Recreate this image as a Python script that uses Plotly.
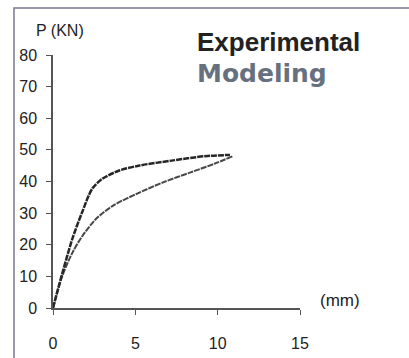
import plotly.graph_objects as go

exp_x = [0, 0.36, 1.17, 1.77, 2.38, 2.98, 3.99, 5.2, 7.2, 9.23, 10.75]
exp_y = [0, 7.1, 21.8, 30.3, 37.7, 40.8, 43.4, 45.0, 46.6, 48.0, 48.4]

mod_x = [0, 0.57, 1.19, 1.8, 2.62, 3.65, 5.08, 6.72, 8.36, 9.8, 10.92]
mod_y = [0, 10.2, 17.6, 22.9, 28.2, 32.4, 36.1, 39.8, 42.9, 45.6, 48.0]

x_ticks = [0, 5, 10, 15]
y_ticks = [0, 10, 20, 30, 40, 50, 60, 70, 80]

fig = go.Figure()
fig.add_trace(go.Scatter(x=mod_x, y=mod_y, mode="lines",
                         line=dict(color="#484848", width=2.0, dash="6px,1px", shape="spline", smoothing=0.8),
                         name="Modeling"))
fig.add_trace(go.Scatter(x=exp_x, y=exp_y, mode="lines",
                         line=dict(color="#262626", width=2.5, dash="6px,1px", shape="spline", smoothing=0.8),
                         name="Experimental"))

font = "Liberation Sans, Arial, sans-serif"
fig.update_layout(
    width=409, height=358,
    margin=dict(l=53, r=109, t=55, b=50, autoexpand=False),
    paper_bgcolor="white", plot_bgcolor="white",
    showlegend=False,
    font=dict(family=font, size=16, color="#222"),
    xaxis=dict(range=[0, 15], tickvals=x_ticks, showline=True, linecolor="#555", linewidth=1.5,
               ticks="outside", ticklen=5, tickcolor="#555", showgrid=False, zeroline=False,
               automargin=False,
               ticklabelstandoff=15, tickfont=dict(family=font, size=16, color="#222")),
    yaxis=dict(range=[0, 80], tickvals=y_ticks, showline=True, linecolor="#555", linewidth=1.5,
               ticks="outside", ticklen=5, tickcolor="#555", showgrid=False, zeroline=False,
               automargin=False,
               ticklabelstandoff=6, tickfont=dict(family=font, size=16, color="#222")),
    annotations=[
        dict(text="<b>Experimental</b>", x=0.575, y=1.051, xref="paper", yref="paper", xanchor="left", yanchor="middle",
             showarrow=False, font=dict(family=font, size=26, color="#222")),
        dict(text="<b>Modeling</b>", x=0.575, y=0.925, xref="paper", yref="paper", xanchor="left", yanchor="middle",
             showarrow=False, font=dict(family="DejaVu Sans, sans-serif", size=25, color="#66707e")),
        dict(text="P (KN)", x=0.028, y=1.095, xref="paper", yref="paper", xanchor="center", yanchor="middle",
             showarrow=False, font=dict(family=font, size=16, color="#222")),
        dict(text="(mm)", x=1.162, y=0.028, xref="paper", yref="paper", xanchor="center", yanchor="middle",
             showarrow=False, font=dict(family=font, size=17, color="#222")),
    ],
    shapes=[
        dict(type="rect", xref="paper", yref="paper", x0=-0.158, x1=1.6, y0=-0.5, y1=1.186,
             line=dict(color="#7a7890", width=1.5), fillcolor="rgba(0,0,0,0)", layer="above"),
    ],
)

fig.write_html("out.html", config={"displayModeBar": False},
               post_script="document.body.style.margin='0';document.body.style.overflow='hidden';")
